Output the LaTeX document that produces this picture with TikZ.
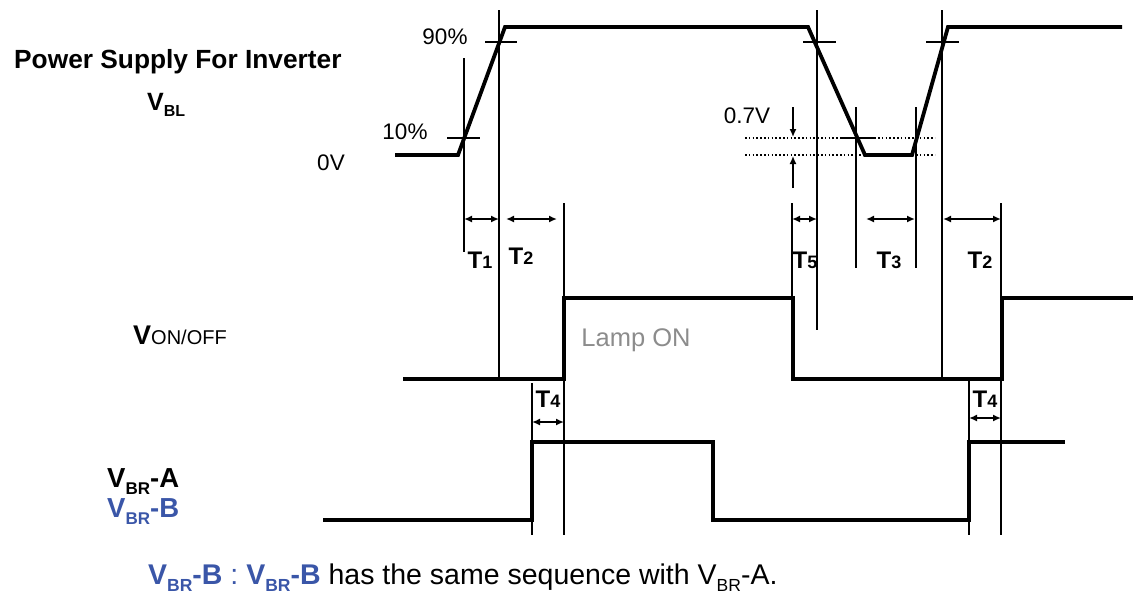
\documentclass[tikz,border=0pt]{standalone}
\usepackage{fontspec}
\setmainfont{Liberation Sans}
\usetikzlibrary{arrows.meta}
\definecolor{vblue}{RGB}{58,86,168}
\definecolor{lampgray}{RGB}{140,140,140}
\begin{document}
\begin{tikzpicture}[x=1pt,y=-1pt,
  wave/.style={line width=3.8pt,line join=miter},
  guide/.style={line width=1.3pt},
  tickln/.style={line width=1.3pt},
  dim/.style={line width=1.6pt,{Latex[length=8pt,width=7pt]}-{Latex[length=8pt,width=7pt]}},
  single/.style={line width=1.5pt,-{Latex[length=8pt,width=7pt]}},
  dots/.style={line width=1.2pt,dash pattern=on 1.6pt off 2.2pt},
  lbl/.style={inner sep=0pt,font=\fontsize{22.5}{24}\selectfont},
  tlab/.style={inner sep=0pt,font=\fontsize{24}{26}\selectfont\bfseries}]
\useasboundingbox (0,0) rectangle (1133,595);

% ---------- waveforms ----------
\draw[wave] (395,155) -- (458,155) -- (505,27) -- (808,27) -- (865,155)
            -- (912,155) -- (948,27) -- (1122,27);
\draw[wave] (403,379) -- (564,379) -- (564,298) -- (793,298) -- (793,379)
            -- (1002,379) -- (1002,298) -- (1133,298);
\draw[wave] (323,520) -- (532,520) -- (532,442) -- (713,442) -- (713,520)
            -- (969,520) -- (969,442) -- (1065,442);

% ---------- level ticks ----------
\draw[tickln] (447,138) -- (480,138);
\draw[tickln] (485,42) -- (517,42);
\draw[tickln] (803,42) -- (836,42);
\draw[tickln] (842,138) -- (874,138);
\draw[tickln] (926,42) -- (959,42);

% ---------- guide lines ----------
\draw[guide] (464,58) -- (464,252);
\draw[guide] (499,10) -- (499,378);
\draw[guide] (564,203) -- (564,535);
\draw[guide] (532,383) -- (532,535);
\draw[guide] (792,203) -- (792,378);
\draw[guide] (817,10) -- (817,330);
\draw[guide] (856,107) -- (856,268);
\draw[guide] (916,107) -- (916,268);
\draw[guide] (942,10) -- (942,378);
\draw[guide] (1001,203) -- (1001,535);
\draw[guide] (969,380) -- (969,535);

% ---------- dotted 0.7V band ----------
\draw[dots] (745,138) -- (935,138);
\draw[dots] (745,155) -- (935,155);
\draw[single] (793,107) -- (793,137);
\draw[single] (793,188) -- (793,156);

% ---------- timing arrows ----------
\draw[dim] (464,219) -- (499,219);
\draw[dim] (506,219) -- (557,219);
\draw[dim] (792,219) -- (817,219);
\draw[dim] (866,219) -- (915,219);
\draw[dim] (943,219) -- (1001,219);
\draw[dim] (532,422) -- (564,422);
\draw[dim] (969,418) -- (1001,418);

% ---------- labels ----------
\node[lbl] (p90) at (445,37) {90\%};
\node[lbl] (p10) at (405,132) {10\%};
\node[lbl] (zv) at (331,163) {0V};
\node[lbl] (v07) at (747,116) {0.7V};

\node[tlab] (t1) at (480,260) {T\fontsize{18}{18}\selectfont 1};
\node[tlab] (t2a) at (521,256) {T\fontsize{18}{18}\selectfont 2};
\node[tlab] (t5) at (805,260) {T\fontsize{18}{18}\selectfont 5};
\node[tlab] (t3) at (889,260) {T\fontsize{18}{18}\selectfont 3};
\node[tlab] (t2b) at (980,260) {T\fontsize{18}{18}\selectfont 2};
\node[tlab] (t4a) at (548,399) {T\fontsize{18}{18}\selectfont 4};
\node[tlab] (t4b) at (985,399) {T\fontsize{18}{18}\selectfont 4};

\node[inner sep=0pt,text=lampgray,font=\fontsize{25.5}{27}\selectfont] (lamp) at (636,340) {Lamp ON};

\node[inner sep=0pt,anchor=west,font=\fontsize{26.3}{28}\selectfont\bfseries] (title) at (14,62) {Power Supply For Inverter};

\node[inner sep=0pt,anchor=base west,font=\fontsize{25}{27}\selectfont\bfseries] (vbl) at (147,110)
  {V\raisebox{-6pt}{\fontsize{16}{16}\selectfont BL}};

\node[inner sep=0pt,anchor=base west] (von) at (133,344)
  {{\fontsize{27}{28}\selectfont\bfseries V}{\fontsize{20}{21}\selectfont ON/OFF}};

\node[inner sep=0pt,anchor=base west,font=\fontsize{27.5}{29}\selectfont\bfseries] (vbra) at (107,487)
  {V\raisebox{-7pt}{\fontsize{17}{17}\selectfont BR}-A};
\node[inner sep=0pt,anchor=base west,text=vblue,font=\fontsize{27.5}{29}\selectfont\bfseries] (vbrb) at (107,517)
  {V\raisebox{-7pt}{\fontsize{17}{17}\selectfont BR}-B};

\node[inner sep=0pt,anchor=base west,font=\fontsize{28.5}{30}\selectfont] (note) at (148,584)
  {\textcolor{vblue}{\bfseries V\raisebox{-7pt}{\fontsize{17.5}{17.5}\selectfont BR}-B}\ \textcolor{vblue}{:}\ \textcolor{vblue}{\bfseries V\raisebox{-7pt}{\fontsize{17.5}{17.5}\selectfont BR}-B} has the same sequence with V\raisebox{-7pt}{\fontsize{17.5}{17.5}\selectfont BR}-A.};
\end{tikzpicture}
\end{document}
